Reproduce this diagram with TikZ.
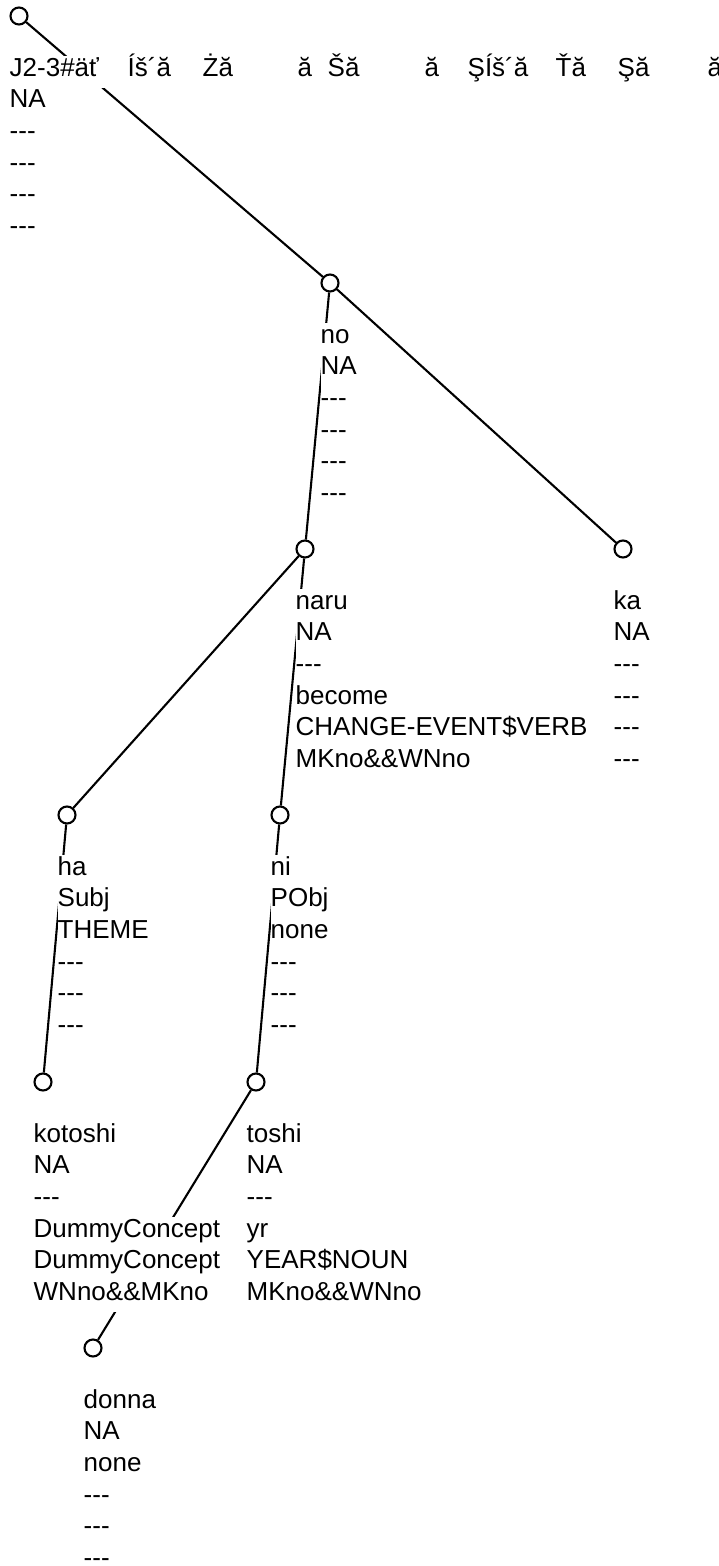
\documentclass[tikz,border=0pt]{standalone}
\usepackage{fontspec}
\setmainfont{Liberation Sans}
\usetikzlibrary{calc,backgrounds}

\tikzset{
  knot/.style={draw,shape=circle,fill=white,minimum size=17pt,inner sep=0pt,line width=2.1pt},
  rowtext/.style={fill=white,anchor=base west,inner xsep=0pt,inner ysep=0pt,
    text height=20pt,text depth=11.7pt,font=\fontsize{26}{31}\selectfont},
  link/.style={line width=2.1pt},
}
\newcommand{\nodash}{-{}-{}-}
\newcommand{\rootttl}{\makebox[118pt][l]{J2-3\#äť}\makebox[75pt][l]{Íš´ă}\makebox[95pt][l]{Żă}%
  \makebox[30pt][l]{ă}\makebox[97pt][l]{Šă}\makebox[43pt][l]{ă}\makebox[88pt][l]{ŞÍš´ă}%
  \makebox[62pt][l]{Ťă}\makebox[90pt][l]{Şă}ă}
% rows of text below a knot
\newcommand{\knotrows}[2]{%
  \foreach \lbl [count=\i] in {#2}
    \node[rowtext] (#1-\i) at ($(#1)+(-9.5,60)+(0,{31.7*(\i-1)})$) {\lbl};
}

\begin{document}
\begin{tikzpicture}[x=1pt,y=-1pt]
  \useasboundingbox (0,0) rectangle (719,1566);
  % knots of the tree
  \path (19,16) node[knot] (J2) {};
  \path (330,283) node[knot] (no) {};
  \path (305,549) node[knot] (naru) {};
  \path (623,549) node[knot] (ka) {};
  \path (67,815) node[knot] (ha) {};
  \path (280,815) node[knot] (ni) {};
  \path (43,1082) node[knot] (kotoshi) {};
  \path (256,1082) node[knot] (toshi) {};
  \path (93,1348) node[knot] (donna) {};
  % the labels
  \knotrows{J2}{\rootttl,NA,\nodash,\nodash,\nodash,\nodash}
  \knotrows{no}{no,NA,\nodash,\nodash,\nodash,\nodash}
  \knotrows{naru}{naru,NA,\nodash,become,CHANGE-EVENT\$VERB,MKno\&\&WNno}
  \knotrows{ka}{ka,NA,\nodash,\nodash,\nodash,\nodash}
  \knotrows{ha}{ha,Subj,THEME,\nodash,\nodash,\nodash}
  \knotrows{ni}{ni,PObj,none,\nodash,\nodash,\nodash}
  \knotrows{kotoshi}{kotoshi,NA,\nodash,DummyConcept,DummyConcept,WNno\&\&MKno}
  \knotrows{toshi}{toshi,NA,\nodash,yr,YEAR\$NOUN,MKno\&\&WNno}
  \knotrows{donna}{donna,NA,none,\nodash,\nodash,\nodash}
  % edges, under the labels
  \begin{scope}[on background layer]
    \draw[link] (J2) -- (no) (no) -- (ka) (no) -- (naru) (naru) -- (ha) (naru) -- (ni)
      (ha) -- (kotoshi) (ni) -- (toshi) (toshi) -- (donna);
  \end{scope}
\end{tikzpicture}
\end{document}
